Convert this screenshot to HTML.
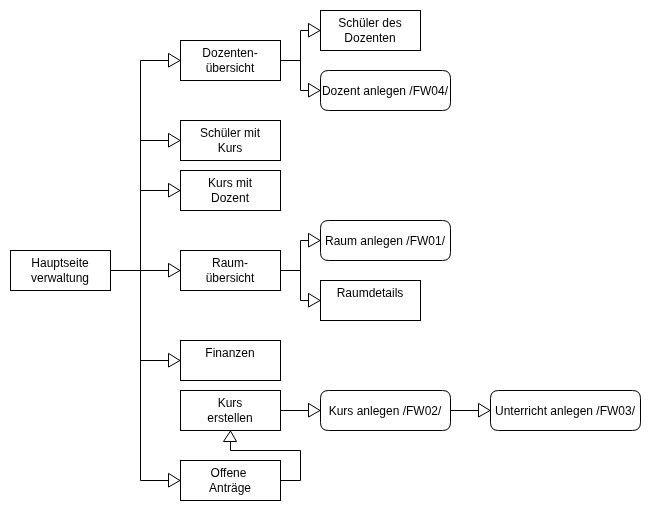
<!DOCTYPE html>
<html><head><meta charset="utf-8"><style>
html,body{margin:0;padding:0;background:#fff;width:650px;height:510px;overflow:hidden}
svg{display:block;will-change:transform}
text{font-family:"Liberation Sans",sans-serif;font-size:12px;fill:#000}
</style></head><body>
<svg width="650" height="510" viewBox="0 0 650 510" xmlns="http://www.w3.org/2000/svg">
<polyline points="110.5,270.5 169.5,270.5" fill="none" stroke="#000" stroke-width="1"/>
<polyline points="140.5,60.5 140.5,480.5" fill="none" stroke="#000" stroke-width="1"/>
<polyline points="140.5,60.5 169.5,60.5" fill="none" stroke="#000" stroke-width="1"/>
<polyline points="140.5,140.5 169.5,140.5" fill="none" stroke="#000" stroke-width="1"/>
<polyline points="140.5,190.5 169.5,190.5" fill="none" stroke="#000" stroke-width="1"/>
<polyline points="140.5,360.5 169.5,360.5" fill="none" stroke="#000" stroke-width="1"/>
<polyline points="140.5,480.5 169.5,480.5" fill="none" stroke="#000" stroke-width="1"/>
<polyline points="280.5,60.5 300.5,60.5" fill="none" stroke="#000" stroke-width="1"/>
<polyline points="300.5,30.5 300.5,90.5" fill="none" stroke="#000" stroke-width="1"/>
<polyline points="300.5,30.5 309.5,30.5" fill="none" stroke="#000" stroke-width="1"/>
<polyline points="300.5,90.5 309.5,90.5" fill="none" stroke="#000" stroke-width="1"/>
<polyline points="280.5,270.5 300.5,270.5" fill="none" stroke="#000" stroke-width="1"/>
<polyline points="300.5,240.5 300.5,300.5" fill="none" stroke="#000" stroke-width="1"/>
<polyline points="300.5,240.5 309.5,240.5" fill="none" stroke="#000" stroke-width="1"/>
<polyline points="300.5,300.5 309.5,300.5" fill="none" stroke="#000" stroke-width="1"/>
<polyline points="280.5,410.5 309.5,410.5" fill="none" stroke="#000" stroke-width="1"/>
<polyline points="450.5,410.5 479.5,410.5" fill="none" stroke="#000" stroke-width="1"/>
<polyline points="280.5,480.5 300.5,480.5 300.5,450.5 230.5,450.5 230.5,441.5" fill="none" stroke="#000" stroke-width="1"/>
<rect x="10.5" y="250.5" width="100" height="40" fill="#fff" stroke="#000"/>
<rect x="180.5" y="40.5" width="100" height="40" fill="#fff" stroke="#000"/>
<rect x="180.5" y="120.5" width="100" height="40" fill="#fff" stroke="#000"/>
<rect x="180.5" y="170.5" width="100" height="40" fill="#fff" stroke="#000"/>
<rect x="180.5" y="250.5" width="100" height="40" fill="#fff" stroke="#000"/>
<rect x="180.5" y="340.5" width="100" height="40" fill="#fff" stroke="#000"/>
<rect x="180.5" y="390.5" width="100" height="40" fill="#fff" stroke="#000"/>
<rect x="180.5" y="460.5" width="100" height="40" fill="#fff" stroke="#000"/>
<rect x="320.5" y="10.5" width="100" height="40" fill="#fff" stroke="#000"/>
<path d="M328.5,70.5 L442.5,70.5 Q450.5,70.5 450.5,78.5 L450.5,102.5 Q450.5,110.5 442.5,110.5 L328.5,110.5 Q320.5,110.5 320.5,102.5 L320.5,78.5 Q320.5,70.5 328.5,70.5 Z" fill="#fff" stroke="#000"/>
<path d="M328.5,220.5 L442.5,220.5 Q450.5,220.5 450.5,228.5 L450.5,252.5 Q450.5,260.5 442.5,260.5 L328.5,260.5 Q320.5,260.5 320.5,252.5 L320.5,228.5 Q320.5,220.5 328.5,220.5 Z" fill="#fff" stroke="#000"/>
<rect x="320.5" y="280.5" width="100" height="40" fill="#fff" stroke="#000"/>
<path d="M328.5,390.5 L442.5,390.5 Q450.5,390.5 450.5,398.5 L450.5,422.5 Q450.5,430.5 442.5,430.5 L328.5,430.5 Q320.5,430.5 320.5,422.5 L320.5,398.5 Q320.5,390.5 328.5,390.5 Z" fill="#fff" stroke="#000"/>
<path d="M498.5,390.5 L632.5,390.5 Q640.5,390.5 640.5,398.5 L640.5,422.5 Q640.5,430.5 632.5,430.5 L498.5,430.5 Q490.5,430.5 490.5,422.5 L490.5,398.5 Q490.5,390.5 498.5,390.5 Z" fill="#fff" stroke="#000"/>
<polygon points="180,60.5 168.5,53.4 168.5,67" fill="#fff" stroke="#000" stroke-miterlimit="10"/>
<polygon points="180,140.5 168.5,133.4 168.5,147" fill="#fff" stroke="#000" stroke-miterlimit="10"/>
<polygon points="180,190.5 168.5,183.4 168.5,197" fill="#fff" stroke="#000" stroke-miterlimit="10"/>
<polygon points="180,270.5 168.5,263.4 168.5,277" fill="#fff" stroke="#000" stroke-miterlimit="10"/>
<polygon points="180,360.5 168.5,353.4 168.5,367" fill="#fff" stroke="#000" stroke-miterlimit="10"/>
<polygon points="180,480.5 168.5,473.4 168.5,487" fill="#fff" stroke="#000" stroke-miterlimit="10"/>
<polygon points="320,30.5 308.5,23.4 308.5,37" fill="#fff" stroke="#000" stroke-miterlimit="10"/>
<polygon points="320,90.5 308.5,83.4 308.5,97" fill="#fff" stroke="#000" stroke-miterlimit="10"/>
<polygon points="320,240.5 308.5,233.4 308.5,247" fill="#fff" stroke="#000" stroke-miterlimit="10"/>
<polygon points="320,300.5 308.5,293.4 308.5,307" fill="#fff" stroke="#000" stroke-miterlimit="10"/>
<polygon points="320,410.5 308.5,403.4 308.5,417" fill="#fff" stroke="#000" stroke-miterlimit="10"/>
<polygon points="490,410.5 478.5,403.4 478.5,417" fill="#fff" stroke="#000" stroke-miterlimit="10"/>
<polygon points="230.5,431 223.5,441.5 236.5,441.5" fill="#fff" stroke="#000" stroke-miterlimit="10"/>
<text x="60.0" y="266.96" text-anchor="middle">Hauptseite</text>
<text x="60.0" y="281.96" text-anchor="middle">verwaltung</text>
<text x="230.0" y="56.96" text-anchor="middle">Dozenten-</text>
<text x="230.0" y="71.96" text-anchor="middle">übersicht</text>
<text x="230.0" y="136.96" text-anchor="middle">Schüler mit</text>
<text x="230.0" y="151.96" text-anchor="middle">Kurs</text>
<text x="230.0" y="186.96" text-anchor="middle">Kurs mit</text>
<text x="230.0" y="201.96" text-anchor="middle">Dozent</text>
<text x="230.0" y="266.96" text-anchor="middle">Raum-</text>
<text x="230.0" y="281.96" text-anchor="middle">übersicht</text>
<text x="230.0" y="356.96" text-anchor="middle">Finanzen</text>
<text x="230.0" y="406.96" text-anchor="middle">Kurs</text>
<text x="230.0" y="421.96" text-anchor="middle">erstellen</text>
<text x="228.5" y="476.96" text-anchor="middle">Offene</text>
<text x="230.0" y="491.96" text-anchor="middle">Anträge</text>
<text x="370.0" y="26.96" text-anchor="middle">Schüler des</text>
<text x="370.0" y="41.96" text-anchor="middle">Dozenten</text>
<text x="385.0" y="95.00" text-anchor="middle">Dozent anlegen /FW04/</text>
<text x="385.0" y="245.00" text-anchor="middle">Raum anlegen /FW01/</text>
<text x="370.0" y="296.96" text-anchor="middle">Raumdetails</text>
<text x="385.0" y="415.00" text-anchor="middle">Kurs anlegen /FW02/</text>
<text x="565.0" y="415.00" text-anchor="middle">Unterricht anlegen /FW03/</text>
</svg>
</body></html>
